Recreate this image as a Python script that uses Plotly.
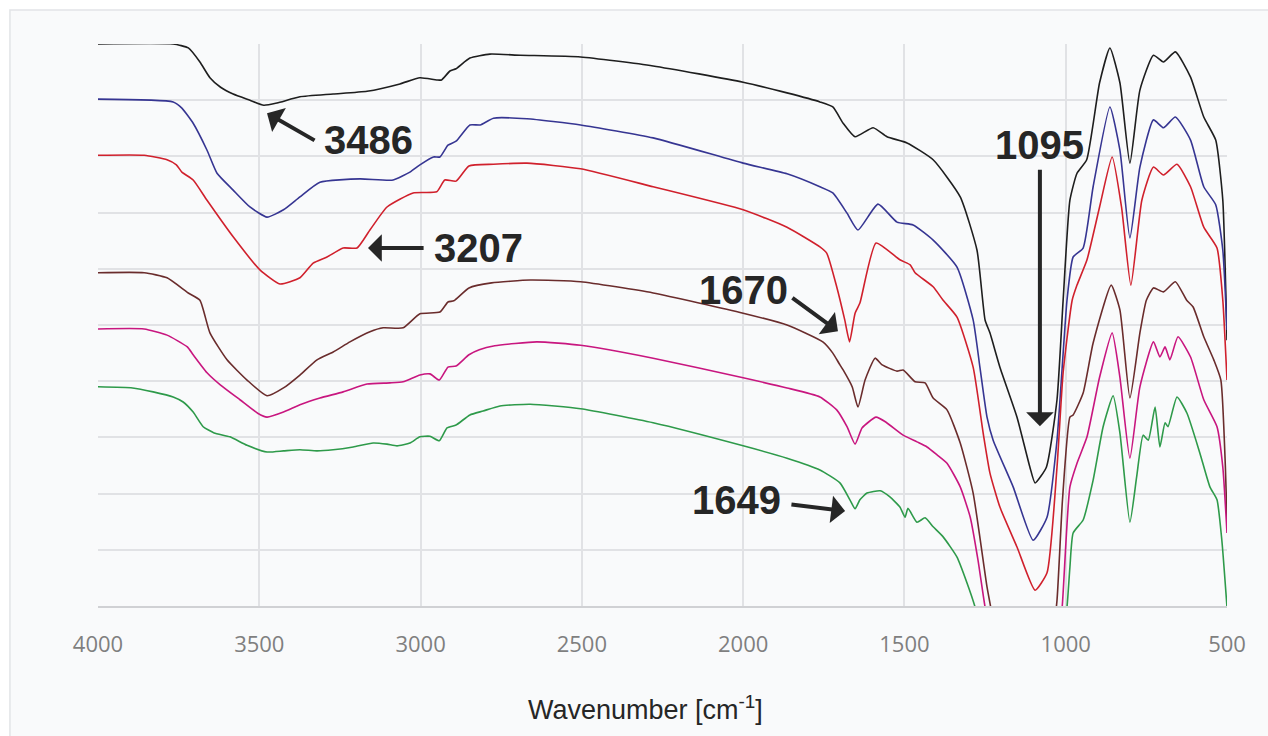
import plotly.graph_objects as go

# ---------------- data ----------------
wn_black = [4000, 3767, 3720, 3684, 3653, 3620, 3581, 3529, 3486, 3445, 3374, 3271, 3166, 3064, 3002, 2950, 2935,
            2909, 2890, 2847, 2785, 2691, 2504, 2279, 2000, 1864, 1762, 1722, 1690, 1653, 1597, 1554, 1492, 1411,
            1327, 1275, 1250, 1235, 1204, 1151, 1111, 1095, 1060, 1027, 1008, 987, 965, 935, 895, 863, 832, 801,
            770, 728, 697, 660, 613, 572, 535, 513, 503, 500]
t_black = [100.0, 100.0, 99.3, 96.8, 94.0, 92.3, 91.1, 90.0, 89.1, 89.5, 90.6, 91.1, 91.6, 92.9, 94.0, 93.6, 93.6,
           95.2, 95.6, 97.5, 98.2, 98.0, 97.7, 96.1, 93.2, 91.3, 89.7, 88.8, 85.9, 83.5, 85.1, 83.5, 82.4, 79.4,
           72.8, 63.3, 50.9, 48.6, 42.5, 33.6, 24.7, 21.9, 24.7, 36.7, 54.4, 72.2, 77.0, 79.4, 93.1, 99.3, 93.1, 78.8,
           91.8, 98.0, 96.8, 98.6, 94.1, 87.0, 82.9, 72.2, 54.4, 47.3]

wn_blue = [4000, 3767, 3740, 3705, 3662, 3631, 3581, 3529, 3476, 3425, 3374, 3312, 3188, 3085, 3033, 3002, 2960,
           2940, 2915, 2890, 2847, 2815, 2774, 2670, 2504, 2279, 2000, 1864, 1762, 1722, 1678, 1644, 1582, 1523,
           1473, 1411, 1337, 1287, 1266, 1244, 1225, 1163, 1101, 1058, 1027, 996, 977, 946, 915, 863, 832, 801,
           770, 728, 697, 660, 613, 572, 535, 513, 500]
t_blue = [90.2, 89.7, 88.6, 85.9, 81.1, 77.0, 74.0, 71.0, 69.2, 70.5, 72.8, 75.4, 76.0, 75.8, 77.2, 78.5, 79.9,
          79.9, 82.0, 82.7, 85.6, 85.6, 86.8, 86.7, 85.6, 83.3, 78.8, 76.9, 74.6, 73.5, 69.9, 66.9, 71.5, 68.3,
          67.8, 65.1, 60.3, 50.9, 42.5, 33.6, 29.5, 21.2, 11.7, 15.8, 29.5, 54.4, 62.1, 63.7, 74.6, 88.8, 81.1, 65.5,
          78.1, 86.5, 85.1, 87.0, 82.9, 74.6, 71.4, 63.3, 49.1]

wn_red = [4000, 3857, 3786, 3757, 3740, 3705, 3662, 3581, 3498, 3436, 3374, 3333, 3290, 3240, 3197, 3157, 3104,
          3023, 2950, 2925, 2890, 2850, 2774, 2670, 2504, 2279, 2000, 1864, 1762, 1741, 1710, 1685, 1670, 1653,
          1638, 1588, 1514, 1482, 1467, 1411, 1380, 1337, 1287, 1256, 1235, 1204, 1151, 1095, 1058, 1027, 1008,
          980, 965, 934, 895, 856, 827, 798, 764, 728, 697, 655, 613, 572, 531, 513, 500]
t_red = [80.2, 80.2, 79.4, 78.5, 77.2, 75.8, 72.2, 65.7, 59.8, 57.3, 58.4, 61.0, 62.1, 63.7, 63.7, 66.9, 71.0,
         73.5, 73.7, 75.8, 75.6, 78.3, 78.6, 78.8, 77.8, 74.6, 70.5, 67.4, 63.9, 62.8, 56.8, 50.9, 47.0, 52.1,
         53.9, 64.6, 61.6, 60.7, 59.3, 56.8, 54.4, 51.4, 42.5, 30.8, 23.7, 17.6, 10.5, 2.8, 5.9, 24.7, 41.5,
         54.4, 57.1, 61.6, 71.0, 79.9, 71.0, 57.1, 72.2, 78.1, 76.7, 78.6, 74.6, 67.4, 63.7, 54.4, 40.2]

wn_brown = [4000, 3857, 3786, 3720, 3684, 3653, 3600, 3538, 3476, 3425, 3374, 3321, 3271, 3219, 3157, 3116, 3054,
            3002, 2940, 2915, 2897, 2850, 2780, 2660, 2504, 2279, 2000, 1864, 1753, 1722, 1703, 1690, 1662, 1644,
            1622, 1591, 1569, 1523, 1504, 1467, 1436, 1411, 1368, 1327, 1287, 1244, 1228, 1210, 1095, 1040, 1027,
            1010, 987, 977, 946, 915, 859, 832, 801, 770, 750, 728, 697, 660, 625, 605, 572, 541, 519, 505, 500]
t_brown = [59.3, 59.3, 58.4, 55.7, 54.4, 48.6, 43.8, 40.2, 37.4, 38.8, 41.1, 43.8, 45.2, 47.0, 48.8, 49.5, 49.5,
           52.0, 52.3, 54.1, 54.3, 56.6, 57.5, 58.0, 57.7, 55.7, 52.1, 50.0, 47.0, 45.0, 43.2, 42.0, 39.0, 35.4,
           40.2, 44.1, 42.9, 41.8, 42.0, 39.9, 39.7, 37.0, 34.9, 29.0, 20.1, 3.4, -1.6, -7.8, -20.0, -5.0, 1.0,
           18.9, 33.6, 34.0, 37.9, 46.8, 57.1, 52.7, 37.0, 48.6, 54.4, 56.6, 55.9, 57.7, 54.4, 53.2, 47.9, 43.8,
           40.2, 24.7, 15.3]

wn_pink = [4000, 3857, 3786, 3723, 3705, 3662, 3620, 3560, 3505, 3476, 3425, 3374, 3312, 3240, 3166, 3095, 3054,
           3002, 2971, 2942, 2915, 2890, 2850, 2818, 2770, 2640, 2504, 2279, 2000, 1864, 1762, 1710, 1678, 1653,
           1631, 1588, 1557, 1504, 1461, 1430, 1399, 1368, 1327, 1296, 1272, 1250, 1200, 1100, 1030, 1011, 987,
           965, 934, 895, 856, 832, 801, 770, 728, 708, 692, 677, 652, 613, 572, 531, 513, 500]
t_pink = [49.3, 49.3, 48.2, 46.1, 44.7, 41.5, 39.3, 36.7, 34.3, 33.6, 34.5, 35.8, 37.0, 38.1, 39.5, 39.7, 39.9,
          41.1, 41.3, 40.2, 42.5, 42.7, 44.7, 45.6, 46.3, 47.0, 46.4, 44.1, 40.6, 38.8, 37.2, 34.9, 31.9, 28.8,
          31.7, 33.6, 32.7, 30.4, 29.2, 28.3, 26.9, 25.4, 21.2, 15.8, 8.2, -0.2, -15.0, -30.0, -10.0, -0.2, 21.2,
          25.4, 30.1, 40.7, 48.6, 40.7, 26.3, 39.0, 47.0, 44.3, 46.1, 43.8, 47.9, 44.3, 36.7, 31.9, 24.7, 13.0]

wn_green = [4000, 3893, 3829, 3767, 3736, 3705, 3674, 3640, 3591, 3538, 3476, 3425, 3374, 3321, 3271, 3209, 3147,
            3104, 3073, 3033, 3002, 2971, 2942, 2918, 2890, 2847, 2806, 2754, 2660, 2504, 2279, 2000, 1864, 1762,
            1700, 1669, 1653, 1638, 1616, 1575, 1545, 1514, 1498, 1489, 1461, 1436, 1411, 1380, 1337, 1306, 1281,
            1200, 1100, 1030, 996, 987, 977, 946, 915, 884, 853, 832, 801, 780, 760, 744, 723, 708, 692, 683, 655,
            624, 584, 553, 531, 516, 500]
t_green = [39.0, 38.8, 38.1, 37.2, 36.3, 34.5, 31.9, 30.8, 30.1, 28.6, 27.4, 27.6, 27.8, 27.6, 27.8, 28.3, 29.0,
           28.8, 28.5, 29.0, 30.1, 30.2, 29.4, 31.7, 32.2, 34.0, 34.7, 35.6, 35.9, 35.1, 32.6, 28.5, 26.3, 24.2,
           21.9, 18.9, 17.3, 18.9, 20.1, 20.5, 19.4, 17.6, 15.8, 17.4, 14.9, 15.7, 14.1, 12.3, 8.7, 4.1, -0.2,
           -20.0, -40.0, -15.0, -0.2, 6.9, 13.0, 15.3, 22.4, 31.9, 37.4, 30.8, 14.9, 23.0, 30.4, 29.5, 35.4, 28.3,
           32.6, 31.9, 37.2, 34.3, 27.2, 21.2, 18.9, 11.7, -0.2]

series = [
    (wn_black, t_black, "#1e1e1e"),
    (wn_blue, t_blue, "#363592"),
    (wn_red, t_red, "#d0202c"),
    (wn_brown, t_brown, "#6a2c2c"),
    (wn_pink, t_pink, "#c8167f"),
    (wn_green, t_green, "#2e9a4a"),
]

# peak labels: (label, arrow tip x, tip y, tail x, tail y, text x, text y, xanchor)
peak_labels = ["3486", "3207", "1095", "1670", "1649"]
arrow_tip_x = [3476, 3163, 1080, 1706, 1684]
arrow_tip_y = [87.7, 63.7, 32.0, 48.9, 16.9]
arrow_tail_x = [3324, 2986, 1080, 1852, 1855]
arrow_tail_y = [82.7, 63.7, 77.9, 55.0, 18.1]
label_x = [3306, 2965, 1080, 1855, 1876]
label_y = [82.9, 63.7, 82.0, 56.2, 18.9]
label_anchor = ["left", "left", "center", "right", "right"]

x_ticks = [4000, 3500, 3000, 2500, 2000, 1500, 1000, 500]

fig = go.Figure()
for wn, t, col in series:
    fig.add_trace(go.Scatter(x=wn, y=t, mode="lines",
                             line=dict(color=col, width=1.6, shape="spline", smoothing=0.5),
                             showlegend=False, hoverinfo="skip"))

ann = []
for i, lab in enumerate(peak_labels):
    ann.append(dict(x=arrow_tip_x[i], y=arrow_tip_y[i], xref="x", yref="y",
                    ax=arrow_tail_x[i], ay=arrow_tail_y[i], axref="x", ayref="y",
                    text="", showarrow=True, arrowhead=1, arrowwidth=4, arrowsize=1.15,
                    arrowcolor="#262626"))
    ann.append(dict(x=label_x[i], y=label_y[i], xref="x", yref="y", text="<b>%s</b>" % lab,
                    showarrow=False, xanchor=label_anchor[i], yanchor="middle",
                    font=dict(family="Liberation Sans, Arial", size=40, color="#262626")))

ann.append(dict(x=0.485, y=-0.1815, xref="paper", yref="paper",
                text="Wavenumber [cm<sup>-1</sup>]", showarrow=False,
                xanchor="center", yanchor="middle",
                font=dict(family="Liberation Sans, Arial", size=27, color="#262626")))

fig.update_layout(
    width=1268, height=736,
    margin=dict(l=98, r=41, t=44, b=130),
    paper_bgcolor="#ffffff",
    plot_bgcolor="#f9fafb",
    annotations=ann,
    shapes=[dict(type="rect", xref="paper", yref="paper", x0=-0.078, x1=1.2, y0=-0.4, y1=1.0605,
                 line=dict(color="#e2e4e7", width=1.5), fillcolor="#f9fafb", layer="below")],
)
fig.update_xaxes(range=[4000, 500], tickvals=x_ticks, ticktext=[str(v) for v in x_ticks],
                 showgrid=True, gridcolor="#e1e2e5", gridwidth=1.5,
                 showline=True, linecolor="#d0d1d4", linewidth=1.5, zeroline=False,
                 ticks="outside", ticklen=18, tickcolor="rgba(0,0,0,0)",
                 tickfont=dict(family="Open Sans", size=22, color="#7f7f7f"))
fig.update_yaxes(range=[0, 100], dtick=10, showticklabels=False, showgrid=True,
                 gridcolor="#e1e2e5", gridwidth=1.5, zeroline=False, showline=False)

fig.write_html("out.html")
